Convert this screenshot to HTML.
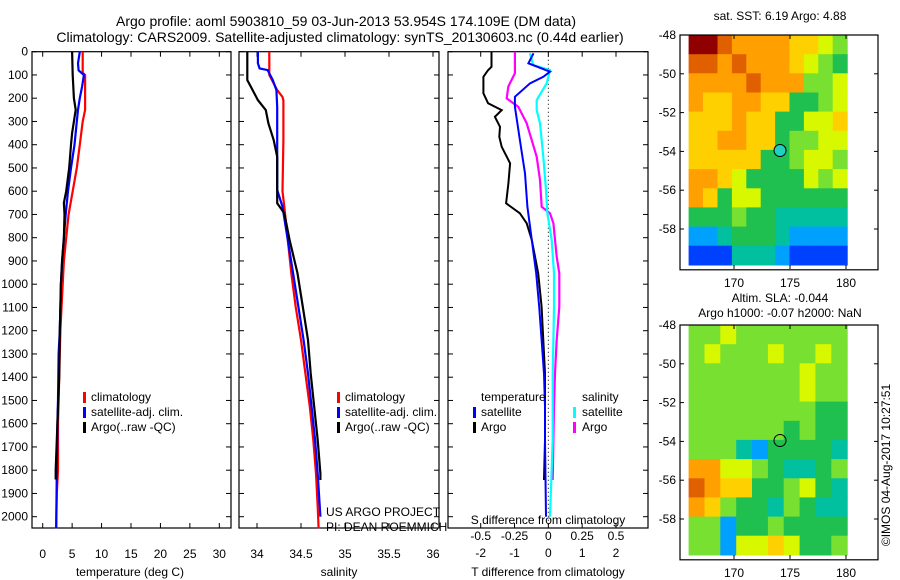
<!DOCTYPE html>
<html><head><meta charset="utf-8"><style>
html,body{margin:0;padding:0;background:#fff}
svg{display:block;font-family:"Liberation Sans",sans-serif}
</style></head><body>
<svg id="fig" width="900" height="580" viewBox="0 0 900 580" xmlns="http://www.w3.org/2000/svg">
<text x="346" y="26" font-size="14" text-anchor="middle">Argo profile: aoml 5903810_59 03-Jun-2013 53.954S 174.109E (DM data)</text>
<text x="340" y="42" font-size="14" text-anchor="middle">Climatology: CARS2009. Satellite-adjusted climatology: synTS_20130603.nc (0.44d earlier)</text>
<g id="p1"></g>
<g id="p2"></g>
<g id="p3"></g>
<g id="m1"></g>
<g id="m2"></g>
<text x="780" y="20" font-size="12" text-anchor="middle">sat. SST: 6.19 Argo: 4.88</text>
<text x="780" y="302" font-size="12" text-anchor="middle">Altim. SLA: -0.044</text>
<text x="780" y="317" font-size="12" text-anchor="middle">Argo h1000: -0.07 h2000: NaN</text>
<text transform="translate(890,465) rotate(-90)" font-size="12" text-anchor="middle">©IMOS 04-Aug-2017 10:27:51</text>
</svg>
<script>
// ---- data ----
const depthTicks=[0,100,200,300,400,500,600,700,800,900,1000,1100,1200,1300,1400,1500,1600,1700,1800,1900,2000];
const tempTicks=[0,5,10,15,20,25,30];
const salTicks=[34,34.5,35,35.5,36];
const tdiffTicks=[-2,-1,0,1,2];
const sdiffTicks=[-0.5,-0.25,0,0.25,0.5];
const latTicks=[-48,-50,-52,-54,-56,-58];
const lonTicks=[170,175,180];

const tClimDepth=[0,90,100,250,300,400,500,600,700,800,900,1000,1100,1200,1300,1400,1500,1600,1800,1900,2050];
const tClimVal=[6.8,6.8,7.2,7.2,6.8,6.3,5.8,5.1,4.4,4.0,3.6,3.4,3.2,3.0,2.9,2.8,2.7,2.6,2.6,2.4,2.3];
const tSatDepth=[0,50,80,100,150,200,250,300,400,500,600,700,800,900,1000,1100,1200,1300,1500,1600,1800,2050];
const tSatVal=[6.3,6.0,6.1,7.0,6.7,6.3,6.0,5.8,5.4,4.8,4.3,3.9,3.6,3.3,3.1,3.0,2.9,2.7,2.6,2.5,2.4,2.3];
const tArgoDepth=[0,100,200,250,300,350,400,500,600,650,700,800,900,1000,1200,1400,1600,1800,1840];
const tArgoVal=[5.0,5.1,5.3,5.6,5.3,5.0,4.8,4.5,4.0,3.6,3.7,3.6,3.3,3.1,2.9,2.8,2.5,2.2,2.2];

const sClimDepth=[0,100,165,195,210,380,600,667,810,953,1097,1240,1384,1527,1670,1814,1957,2050];
const sClimVal=[34.14,34.14,34.23,34.29,34.30,34.30,34.29,34.31,34.35,34.39,34.44,34.50,34.55,34.60,34.64,34.67,34.69,34.70];
const sSatDepth=[0,50,72,79,122,165,237,595,667,810,953,1097,1240,1384,1527,1670,1814,2000];
const sSatVal=[34.01,34.01,34.03,34.12,34.18,34.22,34.23,34.23,34.29,34.35,34.41,34.47,34.53,34.58,34.62,34.66,34.69,34.72];
const sArgoDepth=[0,122,150,208,251,308,380,452,652,695,810,953,1097,1240,1384,1527,1670,1814,1842];
const sArgoVal=[33.89,33.89,33.93,34.01,34.10,34.13,34.19,34.23,34.23,34.31,34.37,34.46,34.52,34.58,34.61,34.65,34.69,34.72,34.72];

const dTArgoDepth=[0,65,79,108,179,222,251,280,323,366,409,480,566,652,695,738,810,953,1097,1240,1384,1527,1670,1842];
const dTArgoVal=[-1.68,-1.68,-1.78,-1.92,-1.92,-1.78,-1.38,-1.58,-1.43,-1.45,-1.38,-1.13,-1.18,-1.25,-0.84,-0.64,-0.49,-0.30,-0.20,-0.15,-0.10,-0.10,-0.10,-0.13];
const dTSatDepth=[7,50,86,108,136,194,237,380,523,667,810,953,1097,1240,1384,1527,1670,2000];
const dTSatVal=[-0.44,-0.59,0.05,-0.15,-0.54,-0.99,-0.99,-0.84,-0.69,-0.62,-0.49,-0.36,-0.27,-0.20,-0.13,-0.10,-0.10,-0.07];
const dSSatDepth=[7,57,79,136,208,251,308,452,595,695,810,953,1097,1240,1384,1670,2000];
const dSSatVal=[-0.136,-0.111,0.012,-0.012,-0.086,-0.086,-0.062,-0.037,-0.017,-0.007,0.025,0.042,0.042,0.037,0.032,0.032,0.012];
const dSArgoDepth=[0,93,150,201,237,308,380,452,552,667,695,738,882,953,1097,1240,1384,1527,1670,1842];
const dSArgoVal=[-0.247,-0.247,-0.296,-0.308,-0.222,-0.160,-0.123,-0.086,-0.062,-0.049,0.012,0.037,0.062,0.081,0.081,0.062,0.049,0.042,0.037,0.032];

const sstGrid=[
"BB988887765","99898887654","88889888556","87788774456","77787744667","77887745566",
"77777445665","88764444656","87466444444","44454433333","22344432222","11133321111"];
const slaGrid=[
"5565555555","5655565565","5555555655","5555555655","5555555544","5555554544",
"5553244443","8866543345","9877445643","8754435433","5524454444","5526676445"];
const mapColors=["#00008f","#0040ff","#00a0ff","#00c0a0","#20c050","#78e030","#d8f800","#ffd000","#ffa000","#e06000","#c00000","#900000"];

// ---- helpers ----
const NS="http://www.w3.org/2000/svg";
function mk(tag,attrs,parent){const e=document.createElementNS(NS,tag);for(const k in attrs)e.setAttribute(k,attrs[k]);parent.appendChild(e);return e;}
const Y0=51.7,YS=0.2325;
const yOf=d=>Y0+d*YS;
const TOP=51.7,BOT=528;
function lin(d0,d1,r0,r1){return v=>r0+(v-d0)*(r1-r0)/(d1-d0);}

function frame(g,x0,x1,name){
  const r=mk('rect',{x:x0,y:TOP,width:x1-x0,height:BOT-TOP,fill:'none',stroke:'#000','stroke-width':1.2},g);
  
  
  depthTicks.forEach(d=>{const y=yOf(d);
    mk('line',{x1:x0,x2:x0+5,y1:y,y2:y,stroke:'#000'},g);
    mk('line',{x1:x1,x2:x1-5,y1:y,y2:y,stroke:'#000'},g);});
}
function line(g,xs,depths,vals,color,w,name){
  const pts=vals.map((v,i)=>xs(v).toFixed(1)+','+yOf(depths[i]).toFixed(1)).join(' ');
  const p=mk('polyline',{points:pts,fill:'none',stroke:color,'stroke-width':w},g);
  
  
}
function xtick(g,xs,ticks,y,label){
  ticks.forEach(t=>{const x=xs(t);
    mk('line',{x1:x,x2:x,y1:BOT,y2:BOT-5,stroke:'#000'},g);
    mk('line',{x1:x,x2:x,y1:TOP,y2:TOP+5,stroke:'#000'},g);
    if(label){const tx=mk('text',{x:x,y:y,'font-size':12,'text-anchor':'middle'},g);tx.textContent=label(t);
      
      }
  });
}
function txt(g,x,y,s,size,anchor,name){const t=mk('text',{x:x,y:y,'font-size':size||12,'text-anchor':anchor||'start'},g);t.textContent=s;
  
  return t;}
function legBar(g,x,y,c){mk('rect',{x:x,y:y-9,width:3,height:11,fill:c},g);}

// ---- panel 1 ----
const g1=document.getElementById('p1');
const xT=lin(0,30,42.7,219.3);
frame(g1,32,231,'temperature-axes');
depthTicks.forEach(d=>{const t=txt(g1,28,yOf(d)+4,String(d),12,'end','y-tick-label');});
xtick(g1,xT,tempTicks,558,t=>String(t));
txt(g1,130,576,'temperature (deg C)',12,'middle','x-axis-title');
line(g1,xT,tClimDepth,tClimVal,'#f00',2.2,'climatology-temp-line');
line(g1,xT,tSatDepth,tSatVal,'#00f',2.2,'satellite-temp-line');
line(g1,xT,tArgoDepth,tArgoVal,'#000',2.2,'argo-temp-line');
[['#f00','climatology'],['#00f','satellite-adj. clim.'],['#000','Argo(..raw -QC)']].forEach((l,i)=>{
  legBar(g1,83,401+i*15,l[0]);txt(g1,91,401+i*15,l[1],12,'start','legend-entry');});

// ---- panel 2 ----
const g2=document.getElementById('p2');
const xS=lin(34,36,257,433);
frame(g2,239,439,'salinity-axes');
xtick(g2,xS,salTicks,558,t=>String(t));
txt(g2,339,576,'salinity',12,'middle','x-axis-title');
line(g2,xS,sClimDepth,sClimVal,'#f00',2.2,'climatology-sal-line');
line(g2,xS,sSatDepth,sSatVal,'#00f',2.2,'satellite-sal-line');
line(g2,xS,sArgoDepth,sArgoVal,'#000',2.2,'argo-sal-line');
[['#f00','climatology'],['#00f','satellite-adj. clim.'],['#000','Argo(..raw -QC)']].forEach((l,i)=>{
  legBar(g2,337,401+i*15,l[0]);txt(g2,345,401+i*15,l[1],12,'start','legend-entry');});
txt(g2,326,516,'US ARGO PROJECT',12,'start','project-credit');
txt(g2,326,531,'PI: DEAN ROEMMICH',12,'start','pi-credit');

// ---- panel 3 ----
const g3=document.getElementById('p3');
const xD=lin(-2,2,480.7,616);
const xSD=v=>xD(v*4);
frame(g3,448,648,'difference-axes');
xtick(g3,xD,tdiffTicks,557,t=>String(t));
sdiffTicks.forEach(t=>{txt(g3,xSD(t),540,String(t),12,'middle','s-tick-label');});
mk('line',{x1:xD(0),x2:xD(0),y1:TOP,y2:BOT,stroke:'#000','stroke-dasharray':'1,3'},g3);
txt(g3,548,524,'S difference from climatology',12,'middle','s-axis-title');
txt(g3,548,576,'T difference from climatology',12,'middle','x-axis-title');
line(g3,xD,dTArgoDepth,dTArgoVal,'#000',2,'argo-tdiff-line');
line(g3,xSD,dSArgoDepth,dSArgoVal,'#f0f',2.2,'argo-sdiff-line');
line(g3,xSD,dSSatDepth,dSSatVal,'#0ff',2.2,'satellite-sdiff-line');
line(g3,xD,dTSatDepth,dTSatVal,'#00f',2,'satellite-tdiff-line');
txt(g3,481,401,'temperature',12,'start','legend-heading');
txt(g3,582,401,'salinity',12,'start','legend-heading');
legBar(g3,473,416,'#00f');txt(g3,481,416,'satellite',12,'start','legend-entry');
legBar(g3,473,431,'#000');txt(g3,481,431,'Argo',12,'start','legend-entry');
legBar(g3,573,416,'#0ff');txt(g3,582,416,'satellite',12,'start','legend-entry');
legBar(g3,573,431,'#f0f');txt(g3,582,431,'Argo',12,'start','legend-entry');

// ---- maps ----
function map(id,top,grid,circleFill){
  const g=document.getElementById(id);
  const lon=lin(170,180,734,846);
  const lat=lin(-48,-58,top,top+194);
  const ix0=lon(165.95),ix1=lon(180.1),iy0=lat(-48),iy1=lat(-59.85);
  const rows=grid.length;
  grid.forEach((row,r)=>{const cols=row.length;const cw=(ix1-ix0)/cols,ch=(iy1-iy0)/rows;
    for(let c=0;c<cols;c++){const k=parseInt(row[c],16);
      const cell=mk('rect',{x:(ix0+c*cw).toFixed(1),y:(iy0+r*ch).toFixed(1),width:(cw+0.6).toFixed(1),height:(ch+0.6).toFixed(1),fill:mapColors[k]},g);
      
      }});
  const b=mk('rect',{x:680,y:top,width:198,height:lat(-60)-top+2,fill:'none',stroke:'#000','stroke-width':1.2},g);
  
  
  latTicks.forEach(t=>{const y=lat(t);mk('line',{x1:680,x2:684,y1:y,y2:y,stroke:'#000'},g);mk('line',{x1:878,x2:874,y1:y,y2:y,stroke:'#000'},g);
    txt(g,676,y+4,String(t),12,'end','lat-tick-label');});
  const bot=top+234;
  lonTicks.forEach(t=>{const x=lon(t);mk('line',{x1:x,x2:x,y1:bot,y2:bot-4,stroke:'#000'},g);mk('line',{x1:x,x2:x,y1:top,y2:top+4,stroke:'#000'},g);
    txt(g,x,bot+18,String(t),12,'middle','lon-tick-label');});
  const c=mk('circle',{cx:lon(174.109),cy:lat(-53.954),r:6,fill:circleFill,stroke:'#000','stroke-width':1},g);
  
  
}
map('m1',35,sstGrid,'#20d0c0');
map('m2',325,slaGrid,'none');
</script>
</body></html>
